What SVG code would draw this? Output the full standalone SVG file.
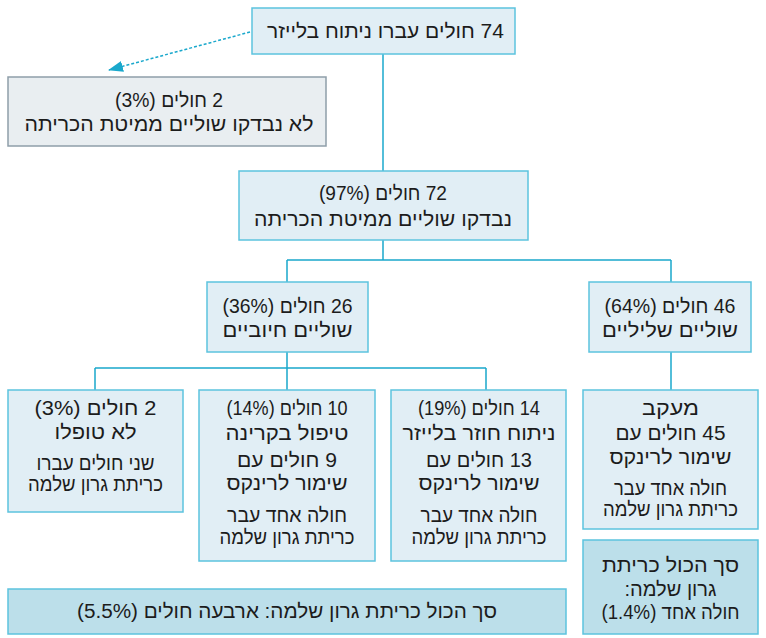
<svg xmlns="http://www.w3.org/2000/svg" width="766" height="638" viewBox="0 0 766 638">
<style>
.box{fill:#e1eef5;stroke:#5cc3de;stroke-width:1.5}
.grey{fill:#e9eef1;stroke:#8e9ea9;stroke-width:1.5}
.tot{fill:#bcdfea;stroke:#5cc3de;stroke-width:1.5}
.t{font-family:"Liberation Sans","DejaVu Sans",sans-serif;font-size:20px;fill:#1c1c1c;text-anchor:middle;direction:rtl}
.conn{fill:none;stroke:#1aa8cc;stroke-width:1.5}
</style>
<defs>
<marker id="ah" markerWidth="15" markerHeight="11" refX="14" refY="5.5" orient="auto" markerUnits="userSpaceOnUse">
<path d="M0,0 L15,5.5 L0,11 Z" fill="#1aa8cc"/>
</marker>
</defs>
<g id="connectors">
<path class="conn" d="M383,54 V171"/>
<path class="conn" d="M383,240 V260 M287,260 H671 M287,260 V282 M671,260 V282"/>
<path class="conn" d="M287,352 V368 M95,368 H486 M95,368 V390 M287,368 V390 M486,368 V390"/>
<path class="conn" d="M671,352 V390"/>
<path d="M250,32 L109,70" fill="none" stroke="#1aa8cc" stroke-width="1.5" stroke-dasharray="3,2" marker-end="url(#ah)"/>
</g>
<g id="n-top">
<rect class="box" x="252" y="8" width="263" height="46"/>
<text class="t" x="385.5" y="38" textLength="237" lengthAdjust="spacingAndGlyphs">74 חולים עברו ניתוח בלייזר</text>
</g>
<g id="n-notchecked">
<rect class="grey" x="8" y="77" width="318" height="69"/>
<text class="t" x="169" y="107" textLength="108" lengthAdjust="spacingAndGlyphs">2 חולים (3%)</text>
<text class="t" x="169" y="131" textLength="289" lengthAdjust="spacingAndGlyphs">לא נבדקו שוליים ממיטת הכריתה</text>
</g>
<g id="n-checked">
<rect class="box" x="239" y="171" width="289" height="69"/>
<text class="t" x="383" y="200" textLength="128" lengthAdjust="spacingAndGlyphs">72 חולים (97%)</text>
<text class="t" x="383" y="226" textLength="258" lengthAdjust="spacingAndGlyphs">נבדקו שוליים ממיטת הכריתה</text>
</g>
<g id="n-positive">
<rect class="box" x="207" y="282" width="161" height="70"/>
<text class="t" x="287.5" y="313" textLength="130" lengthAdjust="spacingAndGlyphs">26 חולים (36%)</text>
<text class="t" x="287.5" y="337" textLength="130" lengthAdjust="spacingAndGlyphs">שוליים חיוביים</text>
</g>
<g id="n-negative">
<rect class="box" x="589" y="282" width="162" height="70"/>
<text class="t" x="670" y="313" textLength="131" lengthAdjust="spacingAndGlyphs">46 חולים (64%)</text>
<text class="t" x="670" y="337" textLength="136" lengthAdjust="spacingAndGlyphs">שוליים שליליים</text>
</g>
<g id="n-untreated">
<rect class="box" x="8" y="390" width="175" height="122"/>
<text class="t" x="95.5" y="415" textLength="122" lengthAdjust="spacingAndGlyphs">2 חולים (3%)</text>
<text class="t" x="95.5" y="439" textLength="82" lengthAdjust="spacingAndGlyphs">לא טופלו</text>
<text class="t" x="95.5" y="470" textLength="118" lengthAdjust="spacingAndGlyphs">שני חולים עברו</text>
<text class="t" x="95.5" y="491" textLength="135" lengthAdjust="spacingAndGlyphs">כריתת גרון שלמה</text>
</g>
<g id="n-radiation">
<rect class="box" x="199" y="390" width="176" height="171"/>
<text class="t" x="287" y="415" textLength="121" lengthAdjust="spacingAndGlyphs">10 חולים (14%)</text>
<text class="t" x="287" y="440" textLength="123" lengthAdjust="spacingAndGlyphs">טיפול בקרינה</text>
<text class="t" x="287" y="467" textLength="100" lengthAdjust="spacingAndGlyphs">9 חולים עם</text>
<text class="t" x="287" y="490" textLength="121" lengthAdjust="spacingAndGlyphs">שימור לרינקס</text>
<text class="t" x="287" y="522" textLength="120" lengthAdjust="spacingAndGlyphs">חולה אחד עבר</text>
<text class="t" x="287" y="544" textLength="135" lengthAdjust="spacingAndGlyphs">כריתת גרון שלמה</text>
</g>
<g id="n-relaser">
<rect class="box" x="391" y="390" width="175" height="171"/>
<text class="t" x="479" y="415" textLength="122" lengthAdjust="spacingAndGlyphs">14 חולים (19%)</text>
<text class="t" x="479" y="440" textLength="153" lengthAdjust="spacingAndGlyphs">ניתוח חוזר בלייזר</text>
<text class="t" x="479" y="467" textLength="106" lengthAdjust="spacingAndGlyphs">13 חולים עם</text>
<text class="t" x="479" y="490" textLength="121" lengthAdjust="spacingAndGlyphs">שימור לרינקס</text>
<text class="t" x="479" y="522" textLength="117" lengthAdjust="spacingAndGlyphs">חולה אחד עבר</text>
<text class="t" x="479" y="544" textLength="135" lengthAdjust="spacingAndGlyphs">כריתת גרון שלמה</text>
</g>
<g id="n-followup">
<rect class="box" x="583" y="390" width="175" height="139"/>
<text class="t" x="670.5" y="415" textLength="57" lengthAdjust="spacingAndGlyphs">מעקב</text>
<text class="t" x="670.5" y="440" textLength="110" lengthAdjust="spacingAndGlyphs">45 חולים עם</text>
<text class="t" x="670.5" y="464" textLength="122" lengthAdjust="spacingAndGlyphs">שימור לרינקס</text>
<text class="t" x="670.5" y="495" textLength="113" lengthAdjust="spacingAndGlyphs">חולה אחד עבר</text>
<text class="t" x="670.5" y="516" textLength="135" lengthAdjust="spacingAndGlyphs">כריתת גרון שלמה</text>
</g>
<g id="n-total-right">
<rect class="tot" x="583" y="540" width="175" height="94"/>
<text class="t" x="670.5" y="572" textLength="137" lengthAdjust="spacingAndGlyphs">סך הכול כריתת</text>
<text class="t" x="670.5" y="596" textLength="92" lengthAdjust="spacingAndGlyphs">גרון שלמה:</text>
<text class="t" x="670.5" y="619" textLength="138" lengthAdjust="spacingAndGlyphs">חולה אחד (1.4%)</text>
</g>
<g id="n-total">
<rect class="tot" x="8" y="589" width="558" height="45"/>
<text class="t" x="287" y="618" textLength="420" lengthAdjust="spacingAndGlyphs">סך הכול כריתת גרון שלמה: ארבעה חולים (5.5%)</text>
</g>
</svg>
